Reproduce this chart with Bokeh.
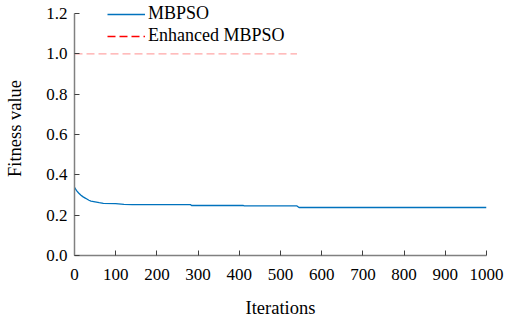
from bokeh.plotting import figure
from bokeh.models import Range1d, FixedTicker, Legend, LegendItem
from bokeh.embed import file_html
from bokeh.resources import INLINE

# Data
mbpso_iter = [0, 5, 10, 15, 20, 25, 30, 35, 40, 50, 60, 70, 100, 120, 140, 282, 284, 410, 412, 540, 545, 1000]
mbpso_fit = [0.338, 0.322, 0.31, 0.30, 0.292, 0.286, 0.28, 0.274, 0.27, 0.266, 0.262, 0.259, 0.257, 0.254, 0.252, 0.252, 0.248, 0.248, 0.246, 0.246, 0.238, 0.238]
enh_iter = [0, 540]
enh_fit = [1.0, 1.0]
x_ticks = [0, 100, 200, 300, 400, 500, 600, 700, 800, 900, 1000]
y_ticks = [0.0, 0.2, 0.4, 0.6, 0.8, 1.0, 1.2]
y_tick_labels = ["0.0", "0.2", "0.4", "0.6", "0.8", "1.0", "1.2"]

FONT = "Liberation Serif"

p = figure(width=506, height=320, output_backend="svg", toolbar_location=None,
           x_range=Range1d(0, 1000), y_range=Range1d(0, 1.26),
           min_border_left=74, min_border_right=20, min_border_top=1, min_border_bottom=64)
p.outline_line_color = None
p.grid.visible = False
p.background_fill_color = "white"
p.border_fill_color = "white"

blue = p.line(mbpso_iter, mbpso_fit, line_color="#0072BD", line_width=1.3)
p.line(enh_iter, enh_fit, line_color="#FF0000", line_alpha=0.35, line_width=1.3, line_dash="8 4")
red_leg = p.line(x=[-50, -40], y=[-1, -1], line_color="#FF0000", line_width=1.3, line_dash="8 4")

legend = Legend(items=[LegendItem(label="MBPSO", renderers=[blue]),
                       LegendItem(label="Enhanced MBPSO", renderers=[red_leg])],
                location="top_left", padding=0, margin=0, spacing=1,
                glyph_width=38, glyph_height=20, label_height=20, label_standoff=3,
                label_text_font=FONT, label_text_font_size="18px", label_text_color="black",
                border_line_color=None, background_fill_alpha=0)
p.add_layout(legend)
legend.location = (33, 209)

for ax in (p.xaxis[0], p.yaxis[0]):
    ax.axis_line_color = "#808080"
    ax.axis_line_width = 1.5
    ax.major_tick_in = 5
    ax.major_tick_out = 0
    ax.major_tick_line_color = "#404040"
    ax.minor_tick_line_color = None
    ax.major_label_text_font = FONT
    ax.major_label_text_font_size = "17px"
    ax.major_label_text_color = "black"
    ax.axis_label_text_font = FONT
    ax.axis_label_text_font_size = "18.5px"
    ax.axis_label_text_font_style = "normal"
    ax.axis_label_text_color = "black"

p.yaxis.bounds = (0, 1.2)
p.xaxis.ticker = FixedTicker(ticks=x_ticks)
p.yaxis.ticker = FixedTicker(ticks=y_ticks)
p.yaxis.major_label_overrides = {t: l for t, l in zip(y_ticks, y_tick_labels)}
p.xaxis.axis_label = "Iterations"
p.yaxis.axis_label = "Fitness value"
p.xaxis.major_label_standoff = 13
p.xaxis.axis_label_standoff = 15
p.yaxis.major_label_standoff = 7
p.yaxis.axis_label_standoff = 18

open("out.html", "w").write(file_html(p, INLINE))
